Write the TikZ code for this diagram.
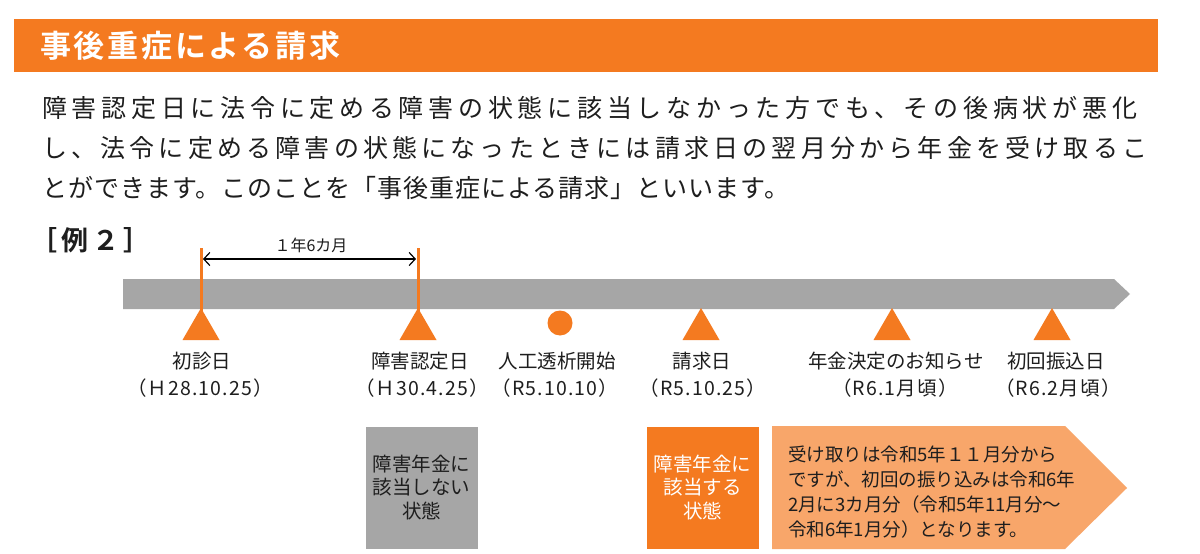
\documentclass[tikz,border=0pt]{standalone}
\usepackage{fontspec}
\newfontfamily\jp[BoldFont={Noto Sans CJK JP Bold}]{Noto Sans CJK JP}
\newfontfamily\jpspa[LetterSpace=19]{Noto Sans CJK JP}
\newfontfamily\jpspb[LetterSpace=16.8]{Noto Sans CJK JP}
\newfontfamily\jpprop[LetterSpace=4]{Noto Sans CJK JP}
\newfontfamily\jplbl[LetterSpace=6]{Noto Sans CJK JP}
\newfontfamily\jptitle[LetterSpace=9]{Noto Sans CJK JP Bold}
\newfontfamily\jpex[LetterSpace=16]{Noto Sans CJK JP Bold}
\usetikzlibrary{arrows.meta}
\definecolor{orng}{RGB}{244,122,32}
\definecolor{lorng}{RGB}{248,166,106}
\definecolor{gbar}{RGB}{166,166,166}
\definecolor{txt}{RGB}{30,30,30}
\begin{document}
\begin{tikzpicture}[x=1pt,y=-1pt,
  every node/.style={inner sep=0pt,outer sep=0pt,text=txt},
  para/.style={anchor=west},
  lbl/.style={font=\jp\fontsize{19.5}{24}\selectfont},
  lblb/.style={font=\jplbl\fontsize{19.5}{24}\selectfont},
  tri/.style={fill=orng},
  vline/.style={draw=orng,line width=3pt},
  boxtxt/.style={font=\jp\fontsize{19.5}{23.5}\selectfont,align=center,minimum width=112pt,minimum height=122pt},
  pent/.style={anchor=west,font=\jp\fontsize{18.5}{22}\selectfont}
]
\useasboundingbox (0,0) rectangle (1200,554);
\fill[white] (0,0) rectangle (1200,554);
% title bar
\fill[orng] (14,19) rectangle (1158,72);
\node[anchor=west,text=white,font=\jptitle\fontsize{31}{33}\selectfont] (title) at (40,46) {事後重症による請求};
% paragraph
\node[para,font=\jpspa\fontsize{25}{28}\selectfont] (p1) at (42,108) {障害認定日に法令に定める障害の状態に該当しなかった方でも、その後病状が悪化};
\node[para,font=\jpspb\fontsize{25}{28}\selectfont] (p2) at (42,148) {し、法令に定める障害の状態になったときには請求日の翌月分から年金を受け取るこ};
\node[para,font=\jpprop\fontsize{25}{28}\selectfont] (p3) at (42,188) {とができます。このことを「事後重症による請求」といいます。};
% example label
\node[anchor=west,font=\jpex\fontsize{27}{29}\selectfont] (ex) at (30,240) {［例２］};
% timeline bar
\fill[gbar] (123,279) -- (1114,279) -- (1130,294) -- (1114,309) -- (123,309) -- cycle;
% orange vertical lines
\coordinate (v1t) at (201,248);
\coordinate (v1b) at (201,315);
\coordinate (v2t) at (418,248);
\coordinate (v2b) at (418,315);
\draw[vline] (v1t) -- (v1b);
\draw[vline] (v2t) -- (v2b);
\coordinate (a1) at (203,259);
\coordinate (a2) at (416,259);
\draw[line width=1.2pt,black,{Straight Barb[length=6pt,width=13pt]}-{Straight Barb[length=6pt,width=13pt]}] (a1) -- (a2);
\node[font=\jp\fontsize{16}{18}\selectfont] (dur) at (311,245) {１年6カ月};
% markers
\foreach \x in {201,418,701,892,1052}{
  \fill[tri] (\x-18.5,340) -- (\x,308) -- (\x+18.5,340) -- cycle;
}
\fill[orng] (560,323) circle (12.5);
% labels
\node[lbl] (l1a) at (202,361) {初診日};
\node[lblb] (l1b) at (200,388) {（Ｈ28.10.25）};
\node[lbl] (l2a) at (420,361) {障害認定日};
\node[lblb] (l2b) at (422,388) {（Ｈ30.4.25）};
\node[lbl] (l3a) at (557,361) {人工透析開始};
\node[lblb] (l3b) at (555,388) {（R5.10.10）};
\node[lbl] (l4a) at (702,361) {請求日};
\node[lblb] (l4b) at (703,388) {（R5.10.25）};
\node[lbl] (l5a) at (896,361) {年金決定のお知らせ};
\node[lblb] (l5b) at (895,388) {（R6.1月頃）};
\node[lbl] (l6a) at (1056,361) {初回振込日};
\node[lblb] (l6b) at (1058,388) {（R6.2月頃）};
% boxes
\node[boxtxt,fill=gbar] (nobox) at (421.5,487.5) {障害年金に\\該当しない\\状態};
\node[boxtxt,fill=orng,text=white] (yesbox) at (702.5,487.5) {障害年金に\\該当する\\状態};
% pentagon
\fill[lorng] (772,426) -- (1065,426) -- (1127,488) -- (1065,549) -- (772,549) -- cycle;
\node[pent] (t1) at (788,454) {受け取りは令和5年１１月分から};
\node[pent] (t2) at (788,479) {ですが、初回の振り込みは令和6年};
\node[pent] (t3) at (788,504) {2月に3カ月分（令和5年11月分～};
\node[pent] (t4) at (788,529) {令和6年1月分）となります。};
\end{tikzpicture}
\end{document}
